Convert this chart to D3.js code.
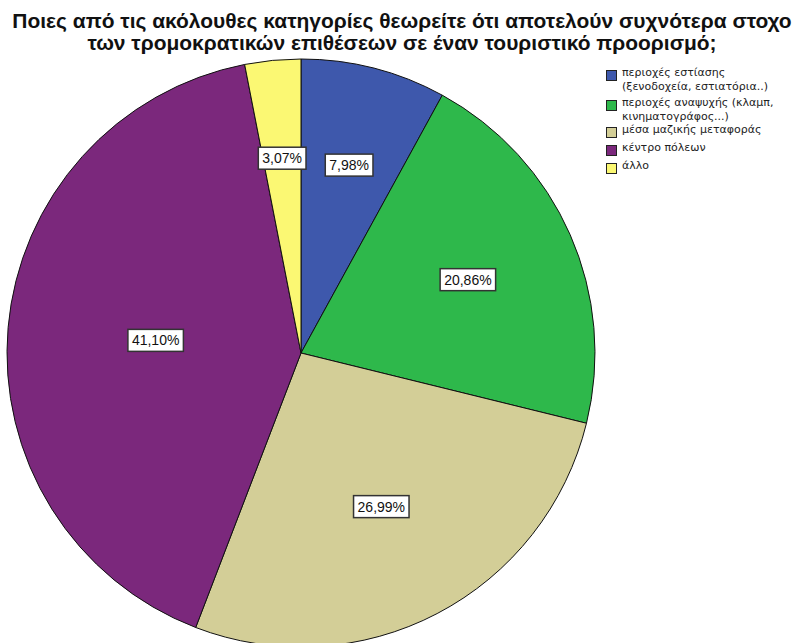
<!DOCTYPE html>
<html><head><meta charset="utf-8">
<script src="https://cdn.jsdelivr.net/npm/d3@7"></script>
<style>body{margin:0;background:#fff}svg{display:block}</style>
</head><body>
<svg id="chart" width="805" height="643"></svg>
<script>
const categories = [
  ["περιοχές εστίασης", "(ξενοδοχεία, εστιατόρια..)"],
  ["περιοχές αναψυχής (κλαμπ,", "κινηματογράφος...)"],
  ["μέσα μαζικής μεταφοράς"],
  ["κέντρο πόλεων"],
  ["άλλο"]
];
const percents = [7.98, 20.86, 26.99, 41.10, 3.07];
const colors = ["#3e58ac", "#2eb84b", "#d3ce97", "#7b287c", "#fbf873"];
const titleLines = [
  "Ποιες από τις ακόλουθες κατηγορίες θεωρείτε ότι αποτελούν συχνότερα στοχο",
  "των τρομοκρατικών επιθέσεων σε έναν τουριστικό προορισμό;"
];

const svg = d3.select("#chart");
svg.append("rect").attr("width",805).attr("height",643).attr("fill","#fff");

const cx = 301, cy = 353, r = 294;
const data = percents.map((v,i)=>({v, i}));
const pie = d3.pie().value(d=>d.v).sort(null);
const arcs = pie(data);
const arc = d3.arc().innerRadius(0).outerRadius(r);

const g = svg.append("g").attr("transform",`translate(${cx},${cy})`);
g.selectAll("path").data(arcs).join("path")
  .attr("d", arc)
  .attr("fill", d=>colors[d.data.i])
  .attr("stroke", "#111").attr("stroke-width", 1);

// labels at sector centroid
const fmt = v => v.toFixed(2).replace(".", ",") + "%";
arcs.forEach(a=>{
  const mid = (a.startAngle + a.endAngle)/2;
  const half = (a.endAngle - a.startAngle)/2;
  const dist = 2*r*Math.sin(half)/(3*half);
  const x = dist*Math.sin(mid), y = -dist*Math.cos(mid);
  const lg = g.append("g").attr("transform",`translate(${x},${y})`);
  const t = lg.append("text").text(fmt(a.data.v))
    .attr("font-family","Liberation Sans, Arial, sans-serif")
    .attr("font-size",14).attr("fill","#111")
    .attr("text-anchor","middle").attr("dominant-baseline","central");
  const w = t.node().getComputedTextLength();
  lg.insert("rect","text").attr("x",-w/2-4).attr("y",-11).attr("width",w+8).attr("height",22)
    .attr("fill","#fff").attr("stroke","#333").attr("stroke-width",1.5);
});

// title
const tt = svg.append("g").selectAll("text").data(titleLines).join("text")
  .attr("font-family","Liberation Sans, Arial, sans-serif")
  .attr("font-size",21).attr("font-weight","bold").attr("fill","#111")
  .attr("text-anchor","middle")
  .attr("x",0).attr("y",(d,i)=>28+i*22)
  .text(d=>d);
const w0 = tt.nodes()[0].getComputedTextLength();
const sx = 780 / w0;
tt.attr("transform",`translate(402,0) scale(${sx},1)`);

// legend
const leg = svg.append("g").attr("transform","translate(606,0)");
const itemY = [70, 100, 127, 145, 163];
categories.forEach((lines,i)=>{
  const y0 = itemY[i];
  leg.append("rect").attr("x",0.5).attr("y",y0+0.5).attr("width",10).attr("height",10)
    .attr("fill",colors[i]).attr("stroke","#222").attr("stroke-width",1);
  lines.forEach((l,j)=>{
    leg.append("text").attr("x",16).attr("y",y0+6+j*13.5)
      .attr("font-family","DejaVu Sans, Verdana, sans-serif")
      .attr("font-size",11).attr("fill","#222").text(l);
  });
});
</script>
</body></html>
